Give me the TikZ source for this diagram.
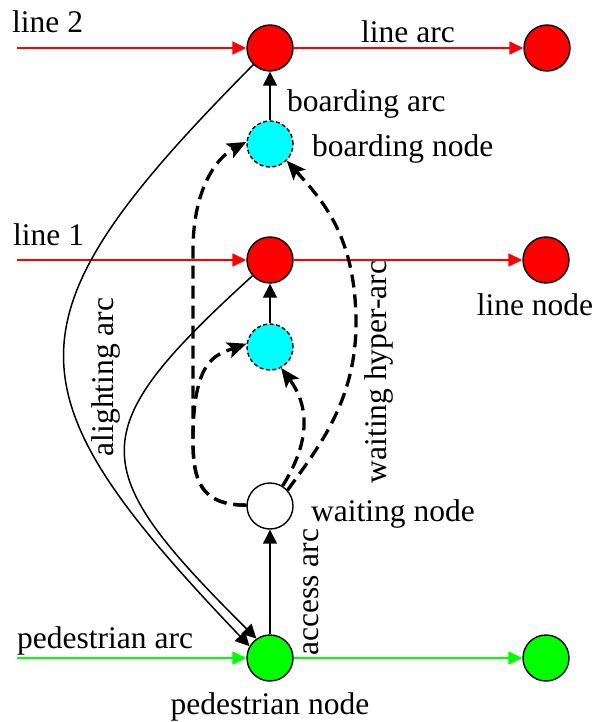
\documentclass[tikz,border=0pt]{standalone}
\usepackage{fontspec}
\setmainfont{Liberation Serif}
\usetikzlibrary{arrows.meta}
\definecolor{cyanfill}{RGB}{0,255,255}
\definecolor{redfill}{RGB}{255,0,0}
\definecolor{greenfill}{RGB}{0,255,0}
\tikzset{
  netnode/.style={circle, draw=black, line width=1.4pt, minimum size=46pt, inner sep=0pt},
  rednode/.style={netnode, fill=redfill},
  greennode/.style={netnode, fill=greenfill},
  cyannode/.style={netnode, fill=cyanfill, dash pattern=on 4pt off 2.5pt},
  whitenode/.style={netnode, fill=white},
  redarc/.style={draw=redfill, line width=1.5pt, -{Triangle[length=14pt,width=13pt]}},
  greenarc/.style={draw=greenfill, line width=1.5pt, -{Triangle[length=14pt,width=13pt]}},
  solidarc/.style={draw=black, line width=1.5pt, -{Triangle[length=14pt,width=14pt]}},
  hyperarc/.style={draw=black, line width=3.3pt, dash pattern=on 13pt off 7pt, -{Stealth[length=19pt,width=16pt,inset=4pt]}},
  lbl/.style={font=\fontsize{31.5}{37}\selectfont, inner sep=0pt},
}
\begin{document}
\begin{tikzpicture}[x=1pt, y=-1pt]
\useasboundingbox (0,0) rectangle (595,722);
% nodes
\node[rednode] (L2a) at (270,48) {};
\node[rednode] (L2b) at (547,48) {};
\node[cyannode] (bn2) at (270,144) {};
\node[rednode] (L1a) at (270,260) {};
\node[rednode] (L1b) at (546,260) {};
\node[cyannode] (bn1) at (270,347) {};
\node[whitenode] (wn) at (270,506) {};
\node[greennode] (pa) at (270,658) {};
\node[greennode] (pb) at (546,658) {};
% free ends
\coordinate (s2) at (17,48);
\coordinate (s1) at (17,260);
\coordinate (sp) at (17,658);
% line arcs
\draw[redarc] (s2) -- (L2a);
\draw[redarc] (L2a) -- (L2b);
\draw[redarc] (s1) -- (L1a);
\draw[redarc] (L1a) -- (L1b);
\draw[greenarc] (sp) -- (pa);
\draw[greenarc] (pa) -- (pb);
% boarding / access arcs
\draw[solidarc] (bn2) -- (L2a);
\draw[solidarc] (bn1) -- (L1a);
\draw[solidarc] (pa) -- (wn);
% alighting arcs
\draw[solidarc] (L2a.225) .. controls (0,320) and (5,390) .. (pa.150);
\draw[solidarc] (L1a.222) .. controls (81,432) and (84,467) .. (pa.125);
% waiting hyper-arcs
\draw[hyperarc] (wn.178) .. controls (200,505) and (193,480) .. (193,440) -- (193,250) .. controls (193,190) and (216,158) .. (bn2.175);
\draw[hyperarc] (wn.178) .. controls (200,505) and (193,480) .. (193,440) .. controls (193,360) and (215,355) .. (bn1.172);
\draw[hyperarc] (wn.58) .. controls (302,455) and (316,415) .. (bn1.-62);
\draw[hyperarc] (wn.42) .. controls (318,448) and (357,400) .. (356,320) .. controls (355,235) and (322,200) .. (bn2.-45);
% labels
\node[lbl, anchor=base west] (t1) at (12,33) {line 2};
\node[lbl, anchor=base] (t2) at (408,43) {line arc};
\node[lbl, anchor=base west] (t3) at (287,112) {boarding arc};
\node[lbl, anchor=base west] (t4) at (312,157) {boarding node};
\node[lbl, anchor=base west] (t5) at (13,245) {line 1};
\node[lbl, anchor=base] (t6) at (535,315) {line node};
\node[lbl, anchor=base west] (t7) at (311,521) {waiting node};
\node[lbl, anchor=base west] (t8) at (17,648) {pedestrian arc};
\node[lbl, anchor=base] (t9) at (270,714) {pedestrian node};
\node[lbl, anchor=base, rotate=90] (t10) at (318,592) {access arc};
\node[lbl, anchor=base, rotate=90] (t11) at (113,377) {alighting arc};
\node[lbl, anchor=base, rotate=90] (t12) at (386,372) {waiting hyper-arc};
\end{tikzpicture}
\end{document}
